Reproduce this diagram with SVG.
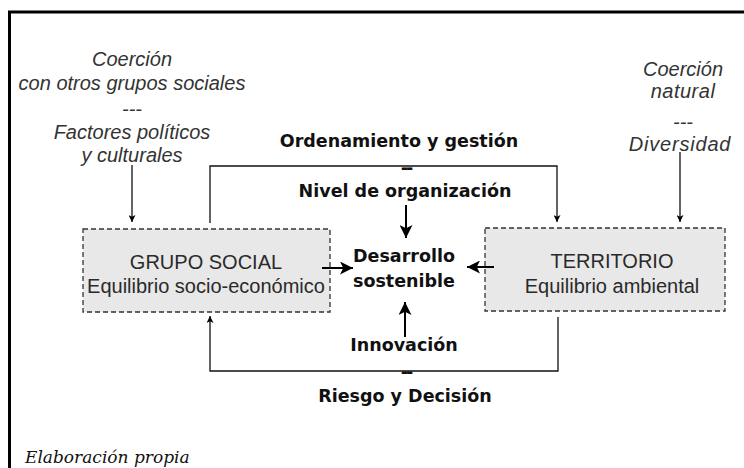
<svg xmlns="http://www.w3.org/2000/svg" width="744" height="468" viewBox="0 0 744 468">
  <style>
    .box { fill: #e8e8e8; stroke: #333; stroke-width: 1.3; stroke-dasharray: 5 3; }
    .boxtxt { font-family: "Liberation Sans", Arial, sans-serif; font-size: 20px; fill: #2a2a2a; text-anchor: middle; }
    .side { font-family: "Liberation Sans", Arial, sans-serif; font-size: 20px; font-style: italic; fill: #333; text-anchor: middle; }
    .bold { font-family: "DejaVu Sans", Verdana, sans-serif; font-weight: bold; font-size: 17.5px; fill: #111; text-anchor: middle; }
    .dash { letter-spacing: -2px; }
    .thin { fill: none; stroke: #111; stroke-width: 1.3; }
    .thick { fill: none; stroke: #000; stroke-width: 2; }
    .note { font-family: "DejaVu Serif", "Liberation Serif", serif; font-style: italic; font-size: 17px; fill: #111; }
  </style>
  <defs>
    <marker id="small" viewBox="0 0 8 8" refX="8" refY="4" markerWidth="7" markerHeight="7" orient="auto" markerUnits="userSpaceOnUse">
      <path d="M0,0 L8,4 L0,8 L2,4 z" fill="#000"/>
    </marker>
    <marker id="big" viewBox="0 0 12 12" refX="12" refY="6" markerWidth="13" markerHeight="13" orient="auto" markerUnits="userSpaceOnUse">
      <path d="M0,0 L12,6 L0,12 L3,6 z" fill="#000"/>
    </marker>
  </defs>

  <rect width="744" height="468" fill="#fff"/>
  <!-- frame -->
  <path d="M9.5,468 V12 H744" fill="none" stroke="#000" stroke-width="3"/>

  <g id="coercion-social">
    <text class="side" x="132" y="66">Coerción</text>
    <text class="side" x="132" y="90">con otros grupos sociales</text>
    <text class="side" x="132" y="116">---</text>
    <text class="side" x="132" y="139">Factores políticos</text>
    <text class="side" x="132" y="162">y culturales</text>
  </g>

  <g id="coercion-natural">
    <text class="side" x="683" y="76">Coerción</text>
    <text class="side" x="683" y="98" letter-spacing="0.5">natural</text>
    <text class="side" x="683" y="129">---</text>
    <text class="side" x="680" y="151" letter-spacing="0.8">Diversidad</text>
  </g>

  <g id="ordenamiento">
    <text class="bold" x="399" y="147">Ordenamiento y gestión</text>
    <text class="bold dash" x="406" y="174">--</text>
    <text class="bold" x="405" y="197">Nivel de organización</text>
  </g>

  <g id="grupo-social">
    <rect class="box" x="83" y="229" width="247" height="83"/>
    <text class="boxtxt" x="206" y="269">GRUPO SOCIAL</text>
    <text class="boxtxt" x="206" y="293">Equilibrio socio-económico</text>
  </g>

  <g id="territorio">
    <rect class="box" x="485" y="228" width="240" height="83"/>
    <text class="boxtxt" x="612" y="268">TERRITORIO</text>
    <text class="boxtxt" x="612" y="293">Equilibrio ambiental</text>
  </g>

  <g id="desarrollo">
    <text class="bold" x="404" y="262">Desarrollo</text>
    <text class="bold" x="404" y="287">sostenible</text>
  </g>

  <g id="innovacion">
    <text class="bold" x="404" y="351">Innovación</text>
  </g>

  <g id="riesgo">
    <text class="bold dash" x="406" y="378">--</text>
    <text class="bold" x="405" y="402">Riesgo y Decisión</text>
  </g>

  <g id="connectors">
    <line class="thin" x1="132" y1="165" x2="132" y2="222" marker-end="url(#small)"/>
    <line class="thin" x1="680" y1="152" x2="680" y2="222" marker-end="url(#small)"/>
    <path class="thin" d="M210,223 V166 H557 V222" marker-end="url(#small)"/>
    <path class="thin" d="M558,317 V371 H210 V316" marker-end="url(#small)"/>
    <line class="thick" x1="406" y1="205" x2="406" y2="238" marker-end="url(#big)"/>
    <line class="thick" x1="405" y1="337" x2="405" y2="302" marker-end="url(#big)"/>
    <line class="thick" x1="322" y1="268" x2="353" y2="268" marker-end="url(#big)"/>
    <line class="thick" x1="494" y1="267" x2="467" y2="267" marker-end="url(#big)"/>
  </g>

  <text class="note" x="25" y="463">Elaboración propia</text>
</svg>
